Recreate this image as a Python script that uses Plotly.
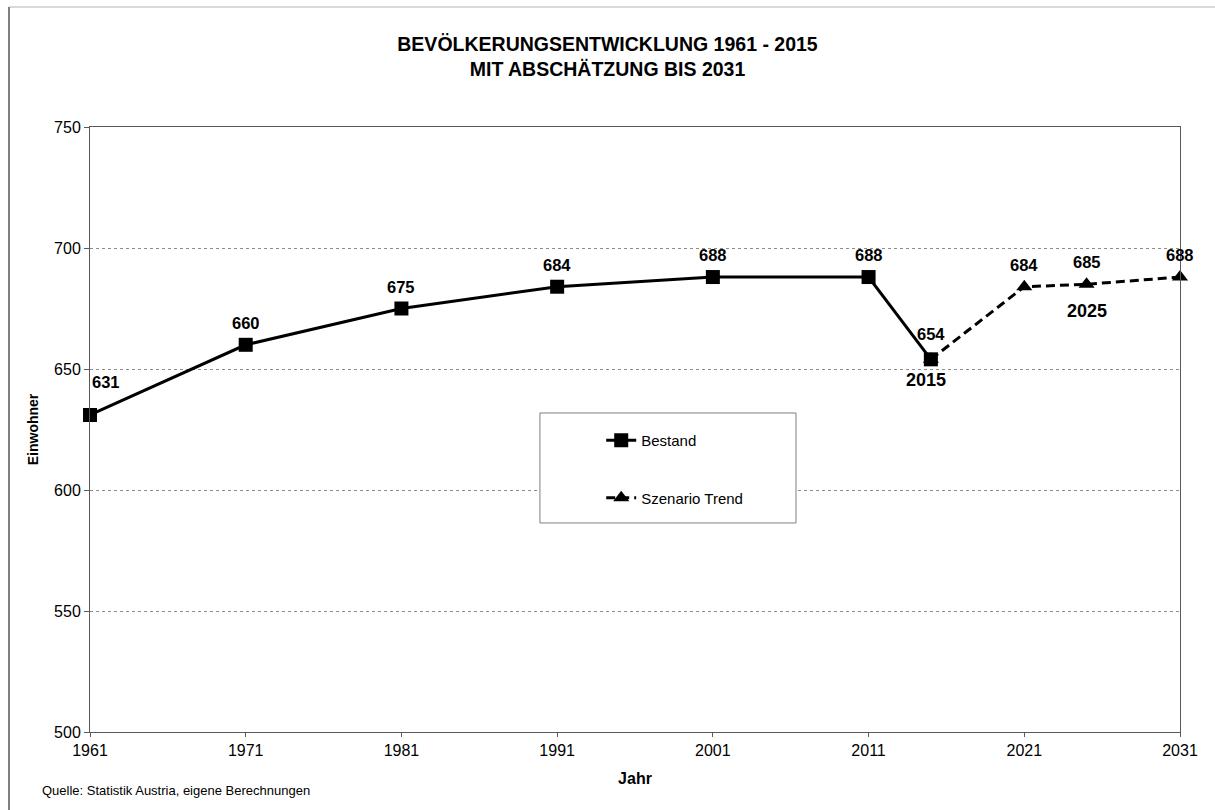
import plotly.graph_objects as go

# ---- data ----
years_bestand = [1961, 1971, 1981, 1991, 2001, 2011, 2015]
values_bestand = [631, 660, 675, 684, 688, 688, 654]
years_trend = [2015, 2021, 2025, 2031]
values_trend = [654, 684, 685, 688]
x_ticks = [1961, 1971, 1981, 1991, 2001, 2011, 2021, 2031]
y_ticks = [500, 550, 600, 650, 700, 750]
year_labels = [2015, 2025]

FONT = "Arial, Liberation Sans, sans-serif"

fig = go.Figure()

# scenario first so the Bestand square covers its starting point
fig.add_trace(go.Scatter(
    x=years_trend, y=values_trend, name="Szenario Trend",
    mode="lines+markers", legendgroup="b", legendrank=2,
    line=dict(color="black", width=3, dash="9px,5px"),
    marker=dict(symbol="triangle-up", size=14, color="black"),
    cliponaxis=False,
))
fig.add_trace(go.Scatter(
    x=years_bestand, y=values_bestand, name="Bestand",
    mode="lines+markers", legendgroup="a", legendrank=1,
    line=dict(color="black", width=3),
    marker=dict(symbol="square", size=14, color="black"),
    cliponaxis=False,
))

annotations = []
all_pts = list(zip(years_bestand, values_bestand)) + list(zip(years_trend[1:], values_trend[1:]))
for i, (x, y) in enumerate(all_pts):
    xs, ys = 0, 22
    if i == 0:
        xs, ys = 16, 33
    if x == 2015:
        ys = 25
    annotations.append(dict(x=x, y=y, xref="x", yref="y", text=str(y), showarrow=False,
                            xshift=xs, yshift=ys,
                            font=dict(family=FONT, size=16.5, color="black", weight="bold")))
lookup = dict(all_pts)
for yr in year_labels:
    annotations.append(dict(x=yr, y=lookup[yr], xref="x", yref="y", text=str(yr), showarrow=False,
                            xshift=-5 if yr == 2015 else 0, yshift=-21 if yr == 2015 else -27,
                            font=dict(family=FONT, size=18, color="black", weight="bold")))
annotations.append(dict(x=-0.046, y=-0.0959, xref="paper", yref="paper",
                        text="Quelle: Statistik Austria, eigene Berechnungen",
                        showarrow=False, xanchor="left", yanchor="middle",
                        font=dict(family=FONT, size=13, color="black")))

shapes = [
    dict(type="rect", xref="paper", yref="paper", x0=0.4128, x1=0.6477, y0=0.3455, y1=0.5273,
         fillcolor="white", line=dict(color="#7f7f7f", width=1), layer="above"),
    dict(type="line", xref="paper", yref="paper", x0=-0.0743, x1=1.0321, y0=1.1983, y1=1.1983,
         line=dict(color="#d9d9d9", width=2)),
    dict(type="line", xref="paper", yref="paper", x0=-0.0743, x1=-0.0743, y0=1.1983, y1=-0.13,
         line=dict(color="#7f7f7f", width=2)),
]

fig.update_layout(
    width=1215, height=810,
    margin=dict(l=90, r=35, t=127, b=78),
    paper_bgcolor="white", plot_bgcolor="white",
    font=dict(family=FONT, color="black"),
    title=dict(text="BEVÖLKERUNGSENTWICKLUNG 1961 - 2015<br>MIT ABSCHÄTZUNG BIS 2031",
               x=0.5, xref="container", xanchor="center", y=0.937, yanchor="top",
               font=dict(family=FONT, size=19.5, color="black", weight="bold")),
    legend=dict(x=0.469, y=0.509, xanchor="left", yanchor="top", bgcolor="rgba(0,0,0,0)",
                borderwidth=0, tracegroupgap=35, traceorder="grouped",
                font=dict(family=FONT, size=15, color="black")),
    annotations=annotations,
    shapes=shapes,
    xaxis=dict(range=[1961, 2031], tickvals=x_ticks, ticktext=[str(v) for v in x_ticks],
               showgrid=False, zeroline=False, showline=True, linecolor="#595959", linewidth=1,
               mirror=True, ticks="outside", ticklen=4, tickcolor="#595959",
               tickfont=dict(family=FONT, size=16, color="black"),
               title=dict(text="<b>Jahr</b>", standoff=14,
                          font=dict(family=FONT, size=16, color="black"))),
    yaxis=dict(range=[500, 750], tickvals=y_ticks, showgrid=True, gridcolor="#8c8c8c",
               griddash="dot", gridwidth=1, zeroline=False, showline=True, linecolor="#595959",
               linewidth=1, mirror=True, ticks="outside", ticklen=5, tickcolor="#595959",
               tickfont=dict(family=FONT, size=16, color="black"),
               title=dict(text="<b>Einwohner</b>", standoff=12,
                          font=dict(family=FONT, size=14, color="black"))),
)

fig.write_html("out.html")
